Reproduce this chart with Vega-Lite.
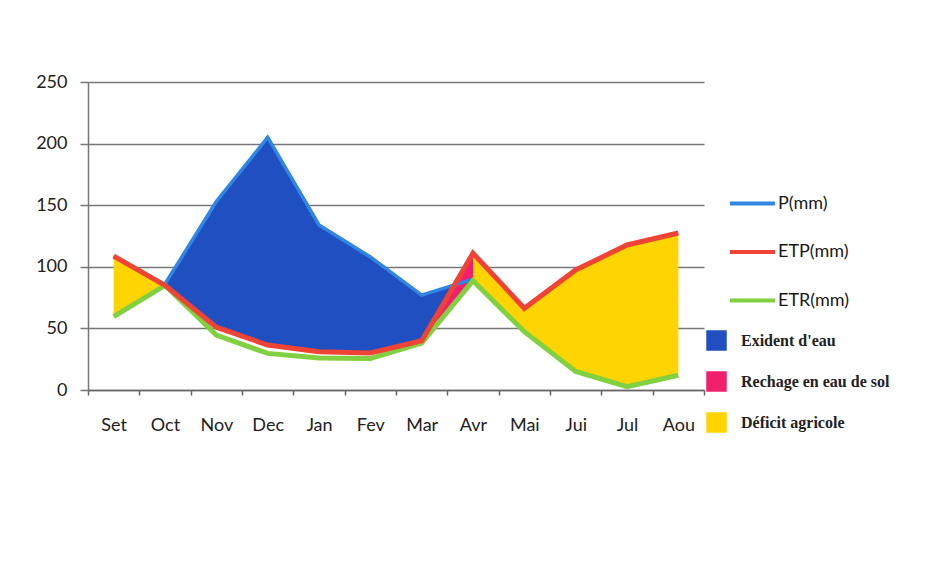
{
  "$schema": "https://vega.github.io/schema/vega-lite/v6.json",
  "width": 616,
  "height": 308,
  "autosize": {"type": "none"},
  "padding": {"left": 88, "top": 82, "right": 234, "bottom": 192},
  "background": "white",
  "config": {"view": {"stroke": null}, "font": "Lato"},
  "datasets": {
    "areas": [
      {"zone": "Exident d'eau", "seg": "b", "month": "Oct", "top": 86, "bottom": 85},
      {"zone": "Exident d'eau", "seg": "b", "month": "Nov", "top": 153, "bottom": 51},
      {"zone": "Exident d'eau", "seg": "b", "month": "Dec", "top": 205, "bottom": 36.5},
      {"zone": "Exident d'eau", "seg": "b", "month": "Jan", "top": 134, "bottom": 31},
      {"zone": "Exident d'eau", "seg": "b", "month": "Fev", "top": 108, "bottom": 30},
      {"zone": "Exident d'eau", "seg": "b", "month": "Mar", "top": 77, "bottom": 40},
      {"zone": "Exident d'eau", "seg": "b", "month": "Avr", "top": 90, "bottom": 89},
      {"zone": "Rechage en eau de sol", "seg": "p", "month": "Mar", "top": 40, "bottom": 38},
      {"zone": "Rechage en eau de sol", "seg": "p", "month": "Avr", "top": 111, "bottom": 89},
      {"zone": "Déficit agricole", "seg": "y1", "month": "Set", "top": 108.7, "bottom": 59.5},
      {"zone": "Déficit agricole", "seg": "y1", "month": "Oct", "top": 85, "bottom": 85},
      {"zone": "Déficit agricole", "seg": "y2", "month": "Avr", "top": 111, "bottom": 89},
      {"zone": "Déficit agricole", "seg": "y2", "month": "Mai", "top": 66.3, "bottom": 47.3},
      {"zone": "Déficit agricole", "seg": "y2", "month": "Jui", "top": 97.4, "bottom": 15},
      {"zone": "Déficit agricole", "seg": "y2", "month": "Jul", "top": 117.7, "bottom": 2.7},
      {"zone": "Déficit agricole", "seg": "y2", "month": "Aou", "top": 127.4, "bottom": 12}
    ],
    "lines": [
      {"series": "P(mm)", "month": "Oct", "value": 86},
      {"series": "P(mm)", "month": "Nov", "value": 153},
      {"series": "P(mm)", "month": "Dec", "value": 205},
      {"series": "P(mm)", "month": "Jan", "value": 134},
      {"series": "P(mm)", "month": "Fev", "value": 108},
      {"series": "P(mm)", "month": "Mar", "value": 77},
      {"series": "P(mm)", "month": "Avr", "value": 90},
      {"series": "ETP(mm)", "month": "Set", "value": 108.7},
      {"series": "ETP(mm)", "month": "Oct", "value": 85},
      {"series": "ETP(mm)", "month": "Nov", "value": 51},
      {"series": "ETP(mm)", "month": "Dec", "value": 36.5},
      {"series": "ETP(mm)", "month": "Jan", "value": 31},
      {"series": "ETP(mm)", "month": "Fev", "value": 30},
      {"series": "ETP(mm)", "month": "Mar", "value": 40},
      {"series": "ETP(mm)", "month": "Avr", "value": 111},
      {"series": "ETP(mm)", "month": "Mai", "value": 66.3},
      {"series": "ETP(mm)", "month": "Jui", "value": 97.4},
      {"series": "ETP(mm)", "month": "Jul", "value": 117.7},
      {"series": "ETP(mm)", "month": "Aou", "value": 127.4},
      {"series": "ETR(mm)", "month": "Set", "value": 59.5},
      {"series": "ETR(mm)", "month": "Oct", "value": 85},
      {"series": "ETR(mm)", "month": "Nov", "value": 44.6},
      {"series": "ETR(mm)", "month": "Dec", "value": 29.7},
      {"series": "ETR(mm)", "month": "Jan", "value": 26},
      {"series": "ETR(mm)", "month": "Fev", "value": 25.5},
      {"series": "ETR(mm)", "month": "Mar", "value": 38},
      {"series": "ETR(mm)", "month": "Avr", "value": 88.7},
      {"series": "ETR(mm)", "month": "Mai", "value": 47.3},
      {"series": "ETR(mm)", "month": "Jui", "value": 15},
      {"series": "ETR(mm)", "month": "Jul", "value": 2.7},
      {"series": "ETR(mm)", "month": "Aou", "value": 12}
    ]
  },
  "encoding": {
    "x": {
      "field": "month",
      "type": "ordinal",
      "sort": ["Set", "Oct", "Nov", "Dec", "Jan", "Fev", "Mar", "Avr", "Mai", "Jui", "Jul", "Aou"],
      "scale": {"type": "band", "domain": ["Set", "Oct", "Nov", "Dec", "Jan", "Fev", "Mar", "Avr", "Mai", "Jui", "Jul", "Aou"], "paddingInner": 0, "paddingOuter": 0},
      "bandPosition": 0.5,
      "axis": {
        "title": null,
        "tickBand": "extent",
        "grid": false,
        "ticks": true,
        "tickSize": 5,
        "tickColor": "#666",
        "tickWidth": 1.5,
        "domainColor": "#666",
        "domainWidth": 1.5,
        "labelAngle": 0,
        "labelFont": "Lato",
        "labelFontSize": 18,
        "labelColor": "#222",
        "labelPadding": 21
      }
    }
  },
  "layer": [
    {
      "data": {"name": "areas"},
      "transform": [{"filter": "datum.seg == 'b'"}],
      "mark": {"type": "area", "interpolate": "linear", "opacity": 1},
      "encoding": {
        "y": {
          "field": "top",
          "type": "quantitative",
          "scale": {"domain": [0, 250], "nice": false},
          "axis": {
            "title": null,
            "values": [0, 50, 100, 150, 200, 250],
            "grid": true,
            "gridColor": "#777",
            "gridWidth": 1.5,
            "tickSize": 8,
            "tickColor": "#777",
            "tickWidth": 1.5,
            "domainColor": "#777",
            "domainWidth": 1.5,
            "labelFont": "Lato",
            "labelFontSize": 18,
            "labelColor": "#222",
            "labelPadding": 13
          }
        },
        "y2": {"field": "bottom"},
        "fill": {
          "field": "zone",
          "type": "nominal",
          "scale": {
            "domain": ["Exident d'eau", "Rechage en eau de sol", "Déficit agricole"],
            "range": ["#1f4fc0", "#f0206e", "#ffd400"]
          },
          "legend": {
            "title": null,
            "orient": "none",
            "legendX": 618,
            "legendY": 248,
            "padding": 0,
            "symbolType": "square",
            "symbolSize": 420,
            "symbolStrokeWidth": 0,
            "rowPadding": 20,
            "labelOffset": 14,
            "labelFont": "Liberation Serif",
            "labelFontSize": 16,
            "labelFontWeight": "bold",
            "labelColor": "#222",
            "labelLimit": 300
          }
        }
      }
    },
    {
      "data": {"name": "areas"},
      "transform": [{"filter": "datum.seg == 'p'"}],
      "mark": {"type": "area", "interpolate": "linear", "opacity": 1},
      "encoding": {
        "y": {"field": "top", "type": "quantitative"},
        "y2": {"field": "bottom"},
        "fill": {"field": "zone", "type": "nominal"}
      }
    },
    {
      "data": {"name": "areas"},
      "transform": [{"filter": "datum.seg == 'y1' || datum.seg == 'y2'"}],
      "mark": {"type": "area", "interpolate": "linear", "opacity": 1},
      "encoding": {
        "y": {"field": "top", "type": "quantitative"},
        "y2": {"field": "bottom"},
        "fill": {"field": "zone", "type": "nominal"},
        "detail": {"field": "seg"}
      }
    },
    {
      "data": {"name": "lines"},
      "transform": [{"filter": "datum.series == 'P(mm)'"}],
      "mark": {"type": "line", "strokeWidth": 3.5, "interpolate": "linear"},
      "encoding": {
        "y": {"field": "value", "type": "quantitative"},
        "stroke": {
          "field": "series",
          "type": "nominal",
          "scale": {"domain": ["P(mm)", "ETP(mm)", "ETR(mm)"], "range": ["#2f86e4", "#ee4335", "#80d040"]},
          "legend": {
            "title": null,
            "orient": "none",
            "legendX": 640,
            "legendY": 97,
            "padding": 0,
            "symbolType": "stroke",
            "symbolSize": 2025,
            "symbolStrokeWidth": 4,
            "rowPadding": 14.5,
            "labelOffset": 1,
            "labelFont": "Lato",
            "labelFontSize": 18,
            "labelColor": "#1a1a1a"
          }
        }
      }
    },
    {
      "data": {"name": "lines"},
      "transform": [{"filter": "datum.series == 'ETR(mm)'"}],
      "mark": {"type": "line", "strokeWidth": 5, "interpolate": "linear"},
      "encoding": {
        "y": {"field": "value", "type": "quantitative"},
        "stroke": {"field": "series", "type": "nominal"}
      }
    },
    {
      "data": {"name": "lines"},
      "transform": [{"filter": "datum.series == 'ETP(mm)'"}],
      "mark": {"type": "line", "strokeWidth": 5, "interpolate": "linear"},
      "encoding": {
        "y": {"field": "value", "type": "quantitative"},
        "stroke": {"field": "series", "type": "nominal"}
      }
    }
  ]
}
